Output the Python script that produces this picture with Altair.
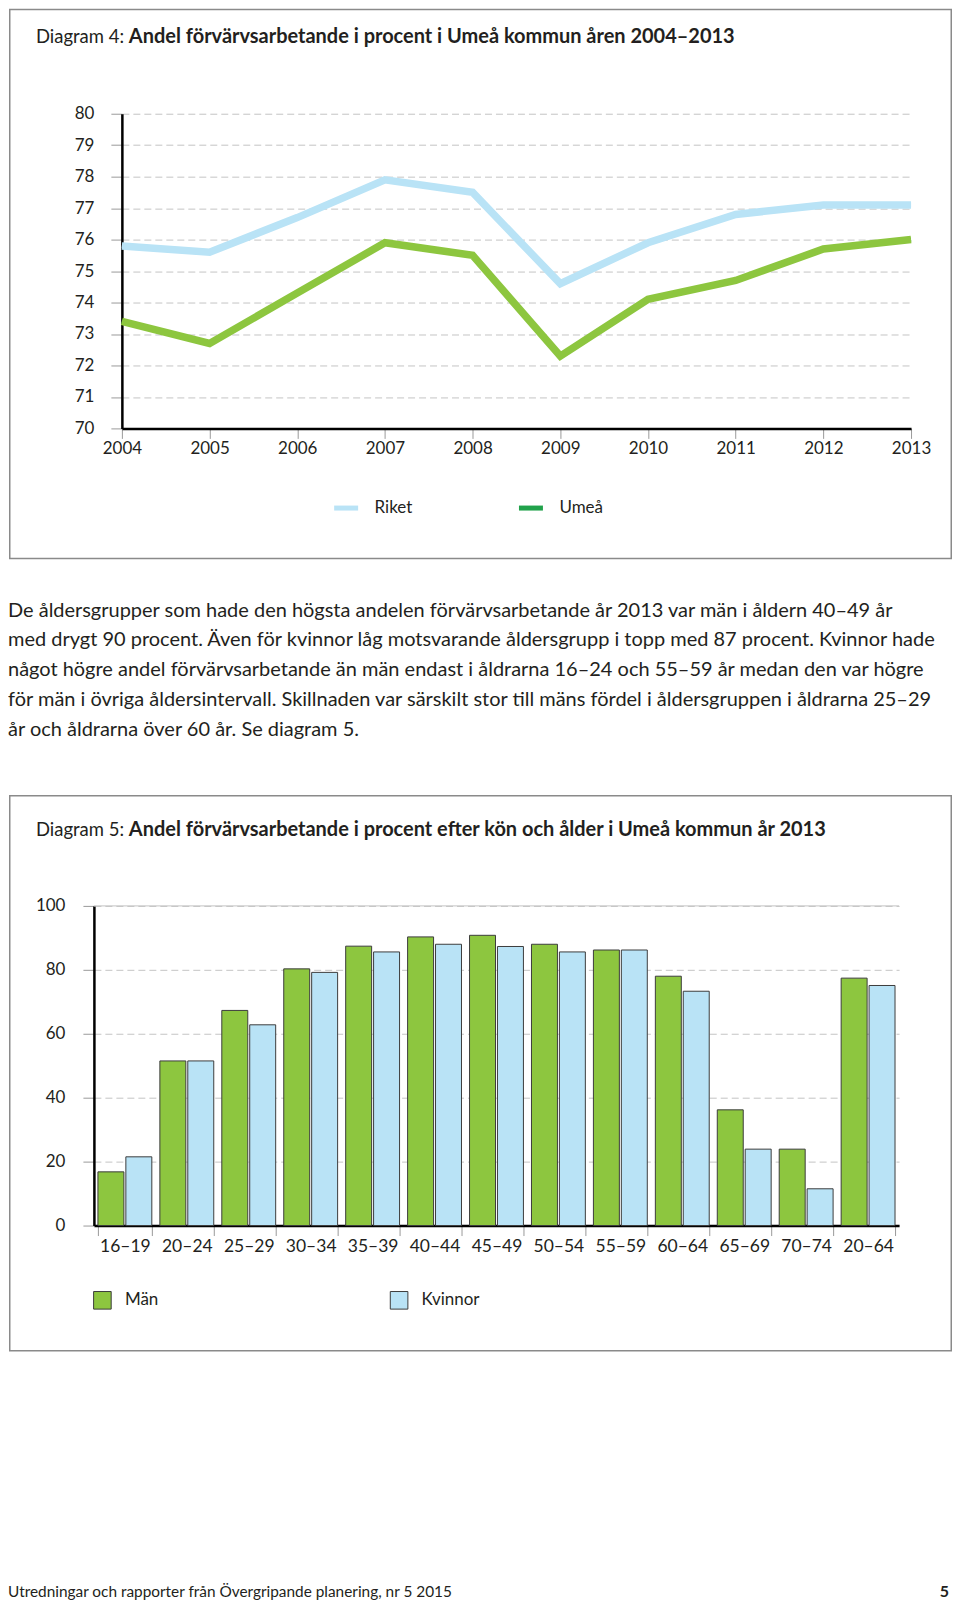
import altair as alt
import pandas as pd

FONT = "Lato"
INK = "#231f20"
BLUE = "#b9e3f6"
GREEN = "#8dc63f"
DARK_GREEN = "#21a24b"
FRAME = "#8a8a8a"

# ---------- Diagram 4 data ----------
years = [str(y) for y in range(2004, 2014)]
riket = [75.8, 75.6, 76.7, 77.9, 77.5, 74.6, 75.9, 76.8, 77.1, 77.1]
umea = [73.4, 72.7, 74.3, 75.9, 75.5, 72.3, 74.1, 74.7, 75.7, 76.0]
series_names = ["Riket", "Umeå"]

# ---------- Diagram 5 data ----------
ages = ["16–19", "20–24", "25–29", "30–34", "35–39", "40–44", "45–49",
        "50–54", "55–59", "60–64", "65–69", "70–74", "20–64"]
man = [16.8, 51.5, 67.3, 80.3, 87.4, 90.3, 90.8, 88.0, 86.2, 78.0, 36.2, 23.9, 77.4]
kvinnor = [21.5, 51.5, 62.8, 79.2, 85.6, 88.0, 87.3, 85.6, 86.2, 73.3, 23.9, 11.5, 75.1]
sexes = ["Män", "Kvinnor"]

# ---------- texts ----------
title4_a = "Diagram 4:"
title4_b = "Andel förvärvsarbetande i procent i Umeå kommun åren 2004–2013"
title5_a = "Diagram 5:"
title5_b = "Andel förvärvsarbetande i procent efter kön och ålder i Umeå kommun år 2013"
paragraph = [
    "De åldersgrupper som hade den högsta andelen förvärvsarbetande år 2013 var män i åldern 40–49 år",
    "med drygt 90 procent. Även för kvinnor låg motsvarande åldersgrupp i topp med 87 procent. Kvinnor hade",
    "något högre andel förvärvsarbetande än män endast i åldrarna 16–24 och 55–59 år medan den var högre",
    "för män i övriga åldersintervall. Skillnaden var särskilt stor till mäns fördel i åldersgruppen i åldrarna 25–29",
    "år och åldrarna över 60 år. Se diagram 5.",
]
footer_left = "Utredningar och rapporter från Övergripande planering, nr 5 2015"
footer_right = "5"

one = pd.DataFrame({"a": [0]})


def frame(x1, x2, y1, y2):
    return alt.Chart(one).mark_rect(fillOpacity=0, stroke=FRAME, strokeWidth=1.5).encode(
        x=alt.value(x1), x2=alt.value(x2), y=alt.value(y1), y2=alt.value(y2))


def label(txt, x, y, bold=False, size=18.5):
    return alt.Chart(one).mark_text(
        text=txt, align="left", baseline="alphabetic", font=FONT, fontSize=size,
        fontWeight="bold" if bold else "normal", color=INK
    ).encode(x=alt.value(x), y=alt.value(y))


def spacer():
    return alt.Chart(one).mark_text(text=" ", fontSize=1).encode(
        x=alt.value(0), y=alt.value(0)).properties(width=1, height=1)


# ---------- Chart 1: lines ----------
line_df = pd.DataFrame({
    "year": years * 2,
    "serie": ["Riket"] * len(years) + ["Umeå"] * len(years),
    "value": riket + umea,
})

W1, H1 = 790, 315
x1 = alt.X("year:O", scale=alt.Scale(type="point", padding=0),
           axis=alt.Axis(title=None, labelAngle=0, labelFontSize=17, labelFont=FONT,
                         labelColor=INK, labelPadding=2, domainColor="black", domainWidth=2.5,
                         tickColor="#9a9a9a", tickSize=10, tickWidth=1, grid=False))
y1 = alt.Y("value:Q", scale=alt.Scale(domain=[70, 80], nice=False, zero=False),
           axis=alt.Axis(title=None, values=list(range(70, 81)), labelFontSize=17,
                         labelFont=FONT, labelColor=INK, labelPadding=17,
                         domainColor="black", domainWidth=2.5, tickColor="#9a9a9a",
                         tickSize=11, tickWidth=1, grid=True, gridColor="#c4c4c4",
                         gridDash=[7, 4], gridWidth=1))

# thin line underneath (carries the legend, with the darker legend swatch)
legend_lines = alt.Chart(line_df).transform_calculate(
    Serie="datum.serie"
).mark_line(strokeWidth=4).encode(
    x=x1, y=y1,
    color=alt.Color("Serie:N", scale=alt.Scale(domain=series_names, range=[BLUE, DARK_GREEN]),
                    legend=alt.Legend(orient="none", legendX=210, legendY=380,
                                      direction="horizontal", title=None,
                                      symbolType="stroke", symbolSize=576,
                                      symbolStrokeWidth=5, labelFontSize=17,
                                      labelFont=FONT, labelColor=INK, labelOffset=14,
                                      columnPadding=96)),
)
lines = alt.Chart(line_df).mark_line(strokeWidth=7.5, strokeJoin="miter").encode(
    x=x1, y=y1,
    stroke=alt.Stroke("serie:N", scale=alt.Scale(domain=series_names, range=[BLUE, GREEN]),
                      legend=None),
)

chart1 = alt.layer(
    frame(-112.25, 830.25, -104.25, 445.25),
    label(title4_a, -86, -70.5),
    label(title4_b, 7, -70.5, bold=True, size=20),
    legend_lines,
    lines,
).properties(width=W1, height=H1)

# ---------- Chart 2: paragraph ----------
par_df = pd.DataFrame({"i": list(range(len(paragraph))), "line": paragraph})
chart2 = alt.Chart(par_df).mark_text(
    align="left", baseline="middle", font=FONT, fontSize=20, color=INK
).encode(
    x=alt.value(0),
    y=alt.Y("i:Q", scale=alt.Scale(domain=[0, 4], range=[51.5, 170.5]), axis=None),
    text="line:N",
).properties(width=940, height=236)

# ---------- Chart 3: bars ----------
bar_df = pd.DataFrame({
    "age": ages * 2,
    "kon": ["Män"] * len(ages) + ["Kvinnor"] * len(ages),
    "value": man + kvinnor,
})
W3, H3 = 806, 320
bars = alt.Chart(bar_df).mark_bar(stroke="#3c3c3c", strokeWidth=1).encode(
    x=alt.X("age:N", sort=ages, scale=alt.Scale(paddingInner=0.13, paddingOuter=0.065),
            axis=alt.Axis(title=None, labelAngle=0, labelFontSize=17.5, labelFont=FONT,
                          labelColor=INK, labelPadding=2, domainColor="black",
                          domainWidth=2.5, tickColor="#9a9a9a", tickSize=10, tickWidth=1,
                          tickBand="extent", grid=False)),
    xOffset=alt.XOffset("kon:N", sort=sexes, scale=alt.Scale(paddingInner=0.07)),
    y=alt.Y("value:Q", scale=alt.Scale(domain=[0, 100], nice=False),
            axis=alt.Axis(title=None, values=list(range(0, 101, 10)), labelFontSize=17,
                          labelFont=FONT, labelColor=INK, labelPadding=18,
                          domainColor="black", domainWidth=2.5, tickColor="#9a9a9a",
                          tickSize=11, tickWidth=1, grid=True, gridColor="#c4c4c4",
                          gridDash=[7, 4], gridWidth=1)),
    color=alt.Color("kon:N", sort=sexes, scale=alt.Scale(domain=sexes, range=[GREEN, BLUE]),
                    legend=alt.Legend(orient="none", legendX=-1, legendY=385,
                                      direction="horizontal", title=None,
                                      symbolType="square", symbolSize=310,
                                      symbolStrokeColor="#3c3c3c", symbolStrokeWidth=1,
                                      symbolOpacity=1, labelFontSize=17, labelFont=FONT,
                                      labelColor=INK, labelOffset=13, columnPadding=229)),
)
top_rule = alt.Chart(pd.DataFrame({"v": [100]})).mark_rule(color="#c4c4c4", strokeWidth=1).encode(
    y=alt.Y("v:Q"))

chart3 = alt.layer(
    frame(-84.25, 858.25, -110.25, 445.25),
    label(title5_a, -58, -69.5),
    label(title5_b, 35, -69.5, bold=True, size=20),
    top_rule,
    bars,
).properties(width=W3, height=H3)

# ---------- Chart 4: footer ----------
foot_l = alt.Chart(one).mark_text(
    text=footer_left, align="left", baseline="middle", font=FONT, fontSize=15.4, color=INK
).encode(x=alt.value(0), y=alt.value(241))
foot_r = alt.Chart(one).mark_text(
    text=footer_right, align="right", baseline="middle", font=FONT, fontSize=16,
    fontWeight="bold", color=INK
).encode(x=alt.value(942), y=alt.value(241))
chart4 = alt.layer(foot_l, foot_r).properties(width=942, height=246)

wrap1 = alt.hconcat(spacer(), chart1, spacing=0).resolve_scale(
    color="independent", stroke="independent").resolve_legend(
    color="independent", stroke="independent")
wrap3 = alt.hconcat(spacer(), chart3, spacing=0).resolve_scale(
    color="independent").resolve_legend(color="independent")

chart = alt.vconcat(
    wrap1, chart2, wrap3, chart4, spacing=0,
).resolve_scale(color="independent", stroke="independent").properties(
    padding=0, background="white"
).configure(font=FONT).configure_view(strokeWidth=0)

chart.save("out.html", embed_options={"renderer": "svg", "actions": False})
